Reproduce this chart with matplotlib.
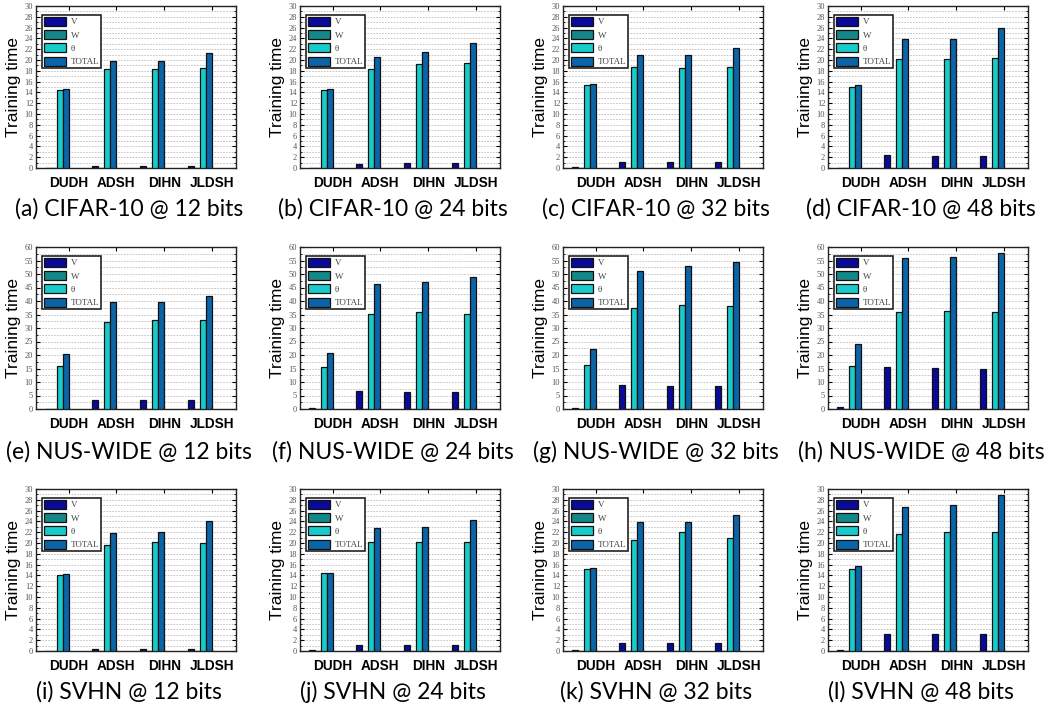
import numpy as np
import matplotlib
matplotlib.use("Agg")
import matplotlib.pyplot as plt
from matplotlib.ticker import MultipleLocator

# Methods (x groups) and cost components (bars)
methods = ["DUDH", "ADSH", "DIHN", "JLDSH"]
series = ["V", "W", "θ", "TOTAL"]
bits = [12, 24, 32, 48]

# CIFAR-10, one row per code length, one value per method
cifar_v = [[0.0, 0.3, 0.4, 0.3], [0.0, 0.8, 0.85, 0.85],
           [0.1, 1.1, 1.1, 1.1], [0.0, 2.4, 2.2, 2.3]]
cifar_theta = [[14.4, 18.3, 18.4, 18.5], [14.5, 18.4, 19.2, 19.4],
               [15.3, 18.7, 18.6, 18.7], [15.0, 20.1, 20.1, 20.3]]
cifar_total = [[14.6, 19.8, 19.9, 21.3], [14.7, 20.5, 21.4, 23.1],
               [15.5, 21.0, 20.9, 22.2], [15.3, 23.8, 23.9, 26.0]]

# NUS-WIDE
nus_v = [[0.1, 3.2, 3.2, 3.2], [0.2, 6.5, 6.3, 6.3],
         [0.3, 9.0, 8.7, 8.7], [0.6, 15.4, 15.1, 15.0]]
nus_theta = [[16.0, 32.3, 32.8, 32.8], [15.7, 35.3, 36.0, 35.3],
             [16.4, 37.4, 38.7, 38.0], [16.1, 36.1, 36.3, 36.1]]
nus_total = [[20.2, 39.8, 39.8, 42.0], [20.8, 46.3, 47.1, 48.9],
             [22.3, 51.2, 52.9, 54.3], [24.0, 55.9, 56.2, 57.9]]

# SVHN
svhn_v = [[0.05, 0.4, 0.4, 0.4], [0.1, 1.1, 1.1, 1.1],
          [0.1, 1.5, 1.4, 1.4], [0.1, 3.2, 3.1, 3.2]]
svhn_theta = [[14.1, 19.7, 20.2, 20.0], [14.4, 20.1, 20.1, 20.1],
              [15.2, 20.5, 22.0, 20.9], [15.2, 21.6, 22.0, 22.1]]
svhn_total = [[14.3, 21.8, 22.1, 24.1], [14.5, 22.8, 22.9, 24.3],
              [15.4, 23.8, 23.9, 25.2], [15.7, 26.6, 27.0, 28.9]]

# W cost is zero everywhere
w_zero = [0.0, 0.0, 0.0, 0.0]

datasets = [
    ("CIFAR-10", cifar_v, cifar_theta, cifar_total, 30, 2, 1),
    ("NUS-WIDE", nus_v, nus_theta, nus_total, 60, 5, 2.5),
    ("SVHN", svhn_v, svhn_theta, svhn_total, 30, 2, 1),
]
letters = "abcdefghijkl"
colors = ["#0a0a9a", "#138888", "#18cccc", "#0b64a8"]

W_PX, H_PX = 1057, 710
col_left = [36, 300, 563, 828]
row_top = [6, 247, 489]
ax_w, ax_h = 200, 162
caption_y = [209, 452, 692]

fig = plt.figure(figsize=(W_PX / 100, H_PX / 100), dpi=100)

bar_w = 0.125
x = np.arange(len(methods))

for r, (name, v_rows, t_rows, tot_rows, ymax, major, minor) in enumerate(datasets):
    for c in range(4):
        L, T = col_left[c], row_top[r]
        ax = fig.add_axes([L / W_PX, 1 - (T + ax_h) / H_PX, ax_w / W_PX, ax_h / H_PX])
        vals = [v_rows[c], w_zero, t_rows[c], tot_rows[c]]
        for k in range(4):
            ax.bar(x + bar_w / 2 + k * bar_w, vals[k], bar_w, color=colors[k],
                   edgecolor="#111111", linewidth=0.9, label=series[k], zorder=3)

        ax.set_xlim(-0.18, 4.0)
        ax.set_ylim(0, ymax)
        ax.yaxis.set_major_locator(MultipleLocator(major))
        ax.yaxis.set_minor_locator(MultipleLocator(minor))
        ax.set_xticks(x + 0.5)
        ax.set_xticklabels(methods, fontsize=9.8, fontweight="bold",
                           family="Liberation Sans")
        ax.tick_params(axis="x", direction="in", length=3, top=True, pad=6)
        ax.tick_params(axis="y", which="both", direction="in", right=True,
                       labelsize=6, labelcolor="#555555", pad=2)
        ax.tick_params(axis="y", which="major", length=3)
        ax.tick_params(axis="y", which="minor", length=1.5)
        for lab in ax.get_yticklabels():
            lab.set_family("Liberation Serif")
        ax.grid(axis="y", which="both", linestyle=(0, (2, 1.5)),
                color="#bdbdbd", linewidth=0.6, zorder=0)
        for sp in ax.spines.values():
            sp.set_linewidth(1.0)
            sp.set_color("#222222")
        ax.set_ylabel("Training time", fontsize=12.5, family="Liberation Sans",
                      labelpad=3)

        leg = ax.legend(loc="upper left", bbox_to_anchor=(0.03, 0.945),
                        prop={"family": ["Liberation Serif", "DejaVu Serif"],
                              "size": 6.5},
                        handlelength=2.45, handleheight=1.15, labelspacing=0.42,
                        handletextpad=0.55, borderpad=0.2, borderaxespad=0,
                        fancybox=False, framealpha=1, edgecolor="#222222")
        leg.get_frame().set_linewidth(1.2)
        for txt in leg.get_texts():
            txt.set_color("#444444")

        fig.text((L + ax_w / 2 - 7) / W_PX, 1 - caption_y[r] / H_PX,
                 "(%s) %s @ %d bits" % (letters[r * 4 + c], name, bits[c]),
                 ha="center", va="center", fontsize=16.5, family="Lato")

fig.savefig("out.png", dpi=100)
